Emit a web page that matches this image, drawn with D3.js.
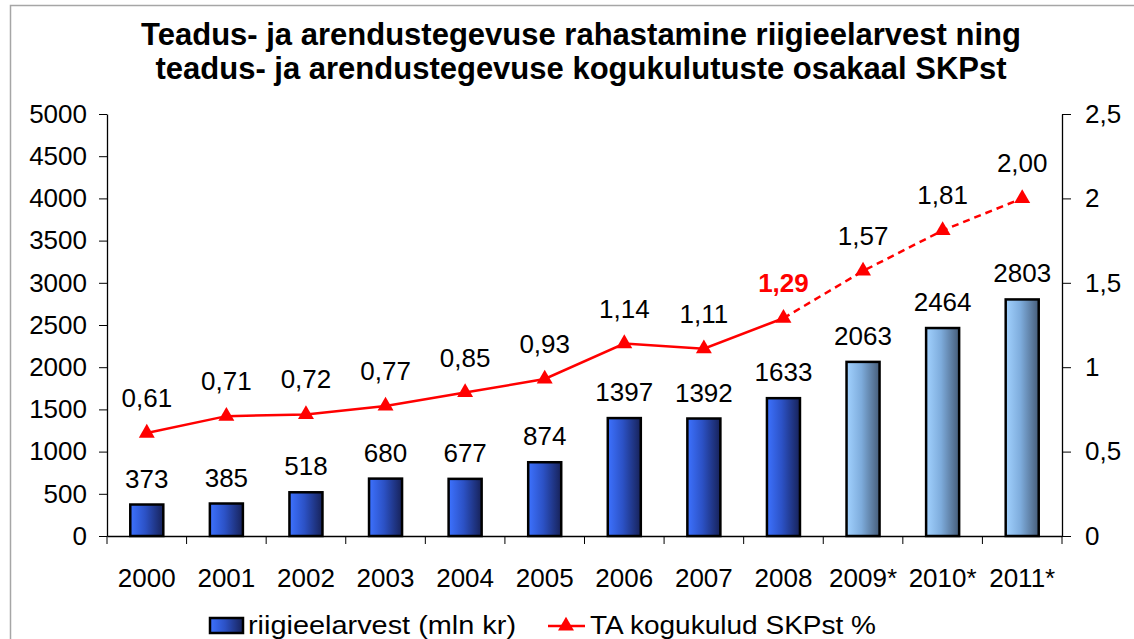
<!DOCTYPE html>
<html>
<head>
<meta charset="utf-8">
<script src="https://cdn.jsdelivr.net/npm/d3@7"></script>
<style>
  body { margin: 0; background: #fff; }
  text { font-family: "Liberation Sans", Arial, sans-serif; }
</style>
</head>
<body>
<script>
var years = ["2000","2001","2002","2003","2004","2005","2006","2007","2008","2009*","2010*","2011*"];
var budget = [373,385,518,680,677,874,1397,1392,1633,2063,2464,2803];
var share = [0.61,0.71,0.72,0.77,0.85,0.93,1.14,1.11,1.29,1.57,1.81,2.00];
var shareLabels = ["0,61","0,71","0,72","0,77","0,85","0,93","1,14","1,11","1,29","1,57","1,81","2,00"];
var firstForecast = 9;
var leftTicks = [0,500,1000,1500,2000,2500,3000,3500,4000,4500,5000];
var rightTicks = [0,0.5,1,1.5,2,2.5];
var titleLines = ["Teadus- ja arendustegevuse rahastamine riigieelarvest ning",
                  "teadus- ja arendustegevuse kogukulutuste osakaal SKPst"];
var legendNames = ["riigieelarvest (mln kr)", "TA kogukulud SKPst %"];

var width = 1134, height = 639;
var plotLeft = 107, plotRight = 1062, plotTop = 114, plotBottom = 536;
var red = "#ff0000";
var fs = 26;

var svg = d3.select("body").append("svg")
            .attr("width", width)
            .attr("height", height);

var defs = svg.append("defs");
function grad(id, stops) {
  var g = defs.append("linearGradient").attr("id", id)
              .attr("x1", "0%").attr("x2", "100%").attr("y1", "0%").attr("y2", "0%");
  stops.forEach(function(s) {
    g.append("stop").attr("offset", s[0]).attr("stop-color", s[1]);
  });
}
grad("real", [["0%","#3d72ff"],["45%","#2c52c6"],["100%","#172259"]]);
grad("fcst", [["0%","#a2d2ff"],["45%","#7eacdc"],["100%","#465d7a"]]);

// outer frame
svg.append("path")
   .attr("d", "M10.5," + height + "V5.5H" + width)
   .attr("fill", "none")
   .attr("stroke", "#a6a6a6")
   .attr("stroke-width", 1.5);

// title
svg.append("g").selectAll("text")
   .data(titleLines).join("text")
   .attr("x", 581)
   .attr("y", function(d, i) { return 45 + i*34; })
   .attr("text-anchor", "middle")
   .attr("font-size", 31)
   .attr("font-weight", "bold")
   .text(function(d) { return d; });

var x = d3.scaleBand().domain(years).range([plotLeft, plotRight]).paddingInner(0.585).paddingOuter(0.2925);
var y = d3.scaleLinear().domain([0, 5000]).range([plotBottom, plotTop]);
var y2 = d3.scaleLinear().domain([0, 2.5]).range([plotBottom, plotTop]);
var cx = function(i) { return x(years[i]) + x.bandwidth()/2; };

// axes
var yAxis = svg.append("g")
   .attr("transform", "translate(" + plotLeft + ",0)")
   .call(d3.axisLeft(y).tickValues(leftTicks).tickSize(8).tickPadding(12).tickSizeOuter(0)
           .tickFormat(d3.format("d")));
var y2Axis = svg.append("g")
   .attr("transform", "translate(" + plotRight + ",0)")
   .call(d3.axisRight(y2).tickValues(rightTicks).tickSize(9).tickPadding(14).tickSizeOuter(0)
           .tickFormat(function(d) { return String(d).replace(".", ","); }));
var xAxis = svg.append("g")
   .attr("transform", "translate(0," + plotBottom + ")")
   .call(d3.axisBottom(x).tickSize(0).tickPadding(51).tickSizeOuter(0));

[yAxis, y2Axis, xAxis].forEach(function(a) {
  a.select(".domain").attr("stroke", "#000").attr("stroke-width", 1.3);
  a.selectAll(".tick line").attr("stroke", "#000").attr("stroke-width", 1);
  a.selectAll("text").attr("font-size", fs).attr("font-family", "Liberation Sans, Arial, sans-serif").attr("fill", "#000");
});
xAxis.selectAll(".tick text").attr("dy", "0");

// category boundary ticks
svg.append("g").selectAll("line")
   .data(d3.range(years.length + 1)).join("line")
   .attr("x1", function(i) { return plotLeft + i*x.step(); })
   .attr("x2", function(i) { return plotLeft + i*x.step(); })
   .attr("y1", plotBottom)
   .attr("y2", plotBottom + 8)
   .attr("stroke", "#000");

// bars
svg.append("g").selectAll("rect")
   .data(budget).join("rect")
   .attr("x", function(d, i) { return x(years[i]); })
   .attr("y", function(d) { return y(d); })
   .attr("width", x.bandwidth())
   .attr("height", function(d) { return plotBottom - y(d); })
   .attr("fill", function(d, i) { return i >= firstForecast ? "url(#fcst)" : "url(#real)"; })
   .attr("stroke", "#000")
   .attr("stroke-width", 2.5);

svg.append("g").selectAll("text")
   .data(budget).join("text")
   .attr("x", function(d, i) { return cx(i); })
   .attr("y", function(d) { return y(d) - 17; })
   .attr("text-anchor", "middle")
   .attr("font-size", fs)
   .text(function(d) { return d; });

// line
var line = d3.line()
   .x(function(d) { return cx(d); })
   .y(function(d) { return y2(share[d]); });
svg.append("path")
   .attr("d", line(d3.range(0, firstForecast)))
   .attr("fill", "none")
   .attr("stroke", red)
   .attr("stroke-width", 2.5);
svg.append("path")
   .attr("d", line(d3.range(firstForecast - 1, share.length)))
   .attr("fill", "none")
   .attr("stroke", red)
   .attr("stroke-width", 2.5)
   .attr("stroke-dasharray", "7,5");

var tri = d3.symbol().type(d3.symbolTriangle).size(110);
svg.append("g").selectAll("path")
   .data(share).join("path")
   .attr("d", tri)
   .attr("transform", function(d, i) { return "translate(" + cx(i) + "," + y2(d) + ")"; })
   .attr("fill", red);

svg.append("g").selectAll("text")
   .data(shareLabels).join("text")
   .attr("x", function(d, i) { return cx(i); })
   .attr("y", function(d, i) { return y2(share[i]) - 26; })
   .attr("text-anchor", "middle")
   .attr("font-size", fs)
   .attr("font-weight", function(d, i) { return i == firstForecast - 1 ? "bold" : "normal"; })
   .attr("fill", function(d, i) { return i == firstForecast - 1 ? red : "#000"; })
   .text(function(d) { return d; });

// legend
var lg = svg.append("g");
lg.append("rect")
  .attr("x", 210).attr("y", 618).attr("width", 33).attr("height", 15)
  .attr("fill", "url(#real)").attr("stroke", "#000").attr("stroke-width", 2.5);
lg.append("text")
  .attr("x", 248).attr("y", 634).attr("font-size", 25)
  .attr("textLength", 268).attr("lengthAdjust", "spacingAndGlyphs")
  .text(legendNames[0]);
lg.append("line")
  .attr("x1", 548).attr("x2", 585).attr("y1", 626).attr("y2", 626)
  .attr("stroke", red).attr("stroke-width", 2.5);
lg.append("path")
  .attr("d", tri).attr("transform", "translate(566,626)").attr("fill", red);
lg.append("text")
  .attr("x", 590).attr("y", 634).attr("font-size", 25)
  .attr("textLength", 286).attr("lengthAdjust", "spacingAndGlyphs")
  .text(legendNames[1]);
</script>
</body>
</html>
